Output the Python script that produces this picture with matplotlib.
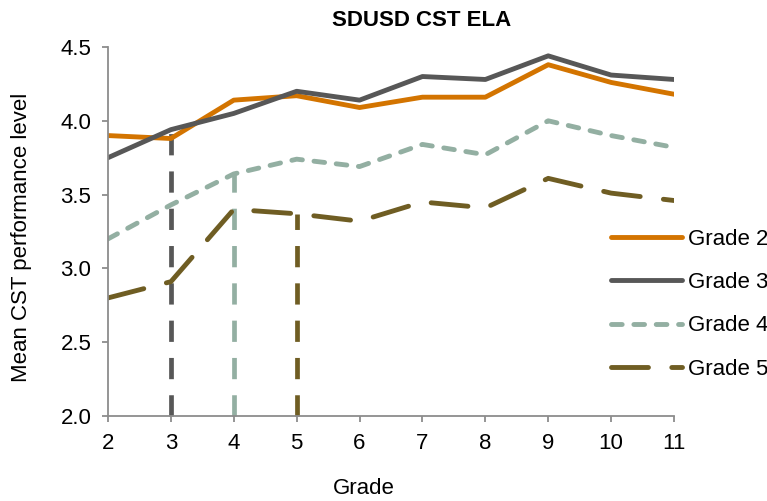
import numpy as np
import matplotlib
matplotlib.use("Agg")
import matplotlib.pyplot as plt
from matplotlib.ticker import FormatStrFormatter

plt.rcParams['font.family'] = ['Liberation Sans', 'DejaVu Sans']

# data
grades = [2, 3, 4, 5, 6, 7, 8, 9, 10, 11]
grade2 = [3.90, 3.88, 4.14, 4.17, 4.09, 4.16, 4.16, 4.38, 4.26, 4.18]
grade3 = [3.75, 3.94, 4.05, 4.20, 4.14, 4.30, 4.28, 4.44, 4.31, 4.28]
grade4 = [3.20, 3.43, 3.64, 3.74, 3.69, 3.84, 3.77, 4.00, 3.90, 3.82]
grade5 = [2.80, 2.91, 3.40, 3.37, 3.32, 3.45, 3.41, 3.61, 3.51, 3.46]
series_names = ['Grade 2', 'Grade 3', 'Grade 4', 'Grade 5']
start_grades = [3, 4, 5]   # where cohorts 3, 4, 5 begin

colors = ['#D37400', '#575757', '#93AFA2', '#6F5D23']

fig = plt.figure(figsize=(7.67, 5.01), dpi=100)
ax = fig.add_axes([108 / 767, 85 / 501, 566 / 767, 369 / 501])

lw = 3.5
# vertical dashed markers down to the axis
all_series = [grade2, grade3, grade4, grade5]
for i, g in enumerate(start_grades):
    top = all_series[i + 1][grades.index(g)]
    ax.plot([g, g], [2.0, top], color=colors[i + 1], lw=3.4,
            dashes=(4.5, 3.4), solid_capstyle='butt', dash_capstyle='butt',
            zorder=1, clip_on=False)

ax.plot(grades, grade2, color=colors[0], lw=lw, label=series_names[0],
        solid_capstyle='round', zorder=2)
ax.plot(grades, grade3, color=colors[1], lw=lw, label=series_names[1],
        solid_capstyle='round', zorder=2)
ax.plot(grades, grade4, color=colors[2], lw=lw, label=series_names[2],
        dashes=(2.2, 2.4), dash_capstyle='round', zorder=2)
ax.plot(grades, grade5, color=colors[3], lw=lw, label=series_names[3],
        dashes=(7.6, 4.8), dash_capstyle='round', zorder=2)

ax.set_xlim(2, 11)
ax.set_ylim(2.0, 4.5)
ax.set_xticks(grades)
ax.set_yticks([2.0, 2.5, 3.0, 3.5, 4.0, 4.5])
ax.yaxis.set_major_formatter(FormatStrFormatter('%.1f'))

for s in ['top', 'right']:
    ax.spines[s].set_visible(False)
for s in ['left', 'bottom']:
    ax.spines[s].set_color('#8C8C8C')
    ax.spines[s].set_linewidth(1.3)
ax.tick_params(axis='both', colors='#8C8C8C', length=4, width=1.3,
               labelcolor='black', labelsize=16)
ax.tick_params(axis='x', pad=8)
ax.tick_params(axis='y', pad=8)

fig.text(422 / 767, 1 - 20 / 501, 'SDUSD CST ELA', ha='center', va='center',
         fontsize=16, fontweight='bold')
fig.text(364 / 767, 1 - 488 / 501, 'Grade', ha='center', va='center', fontsize=16)
fig.text(22 / 767, 1 - 237 / 501, 'Mean CST performance level', ha='center',
         va='center', rotation=90, fontsize=16)

# legend sits at the right edge and runs off the figure, as in the original
fig.legend(loc='upper left', bbox_to_anchor=(611 / 767, 1 - 229 / 501),
           frameon=False, fontsize=16, borderpad=0, borderaxespad=0,
           handlelength=3.2, handletextpad=0.25, labelspacing=1.0)

fig.savefig('out.png', dpi=100)
